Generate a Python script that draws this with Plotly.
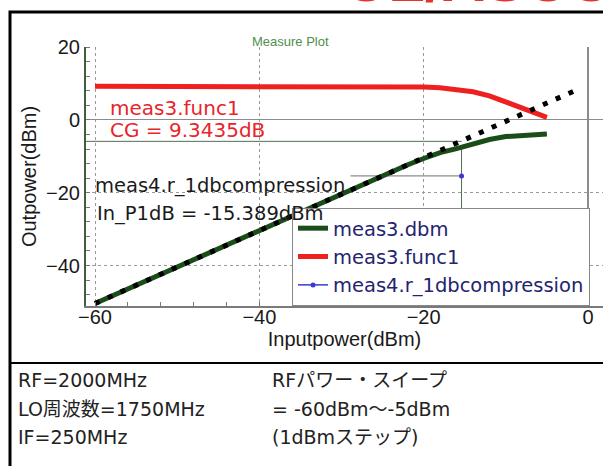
import plotly.graph_objects as go

# ---------------- data ----------------
input_dbm = [-60, -55, -50, -45, -40, -35, -30, -25, -22, -20, -18, -16, -14, -12, -10, -8, -6, -5]
meas3_dbm = [-50.4, -45.4, -40.4, -35.4, -30.3, -25.2, -20.2, -15.3, -12.4, -10.6, -9.0, -7.9, -6.6, -5.4, -4.6, -4.2, -4.0, -3.9]
meas3_func1 = [9.2, 9.2, 9.2, 9.2, 9.2, 9.2, 9.15, 9.1, 9.05, 9.0, 8.8, 8.4, 7.7, 6.6, 4.9, 3.1, 1.6, 0.7]
ideal_x = [-60, -1]
ideal_y = [-50.4, 8.6]
p1db_in = -15.389
p1db_out_level = -5.9
p1db_curve_top = -7.6
leader_start_x = -28.9

x_ticks = [-60, -40, -20, 0]
y_ticks = [20, 0, -20, -40]
x_range = [-61.1, 1.83]
y_range = [-51.1, 20]

col1_lines = ["RF=2000MHz", "LO周波数=1750MHz", "IF=250MHz"]
col2_lines = ["RFパワー・スイープ", "= -60dBm～-5dBm", "(1dBmステップ)"]

# ---------------- layout helpers ----------------
W, H = 603, 466
ML, MR, MT, MB = 86, 0, 47, 160
PW, PH = W - ML - MR, H - MT - MB


def px(x):
    return (x - ML) / PW


def py(y):
    return (H - MB - y) / PH


SANS = "DejaVu Sans, Noto Sans CJK JP, sans-serif"
ARIAL = "Liberation Sans, Arial, sans-serif"

fig = go.Figure()
fig.add_trace(go.Scatter(x=input_dbm, y=meas3_dbm, mode="lines", name="meas3.dbm",
                         line=dict(color="#1b4d1b", width=5)))
fig.add_trace(go.Scatter(x=input_dbm, y=meas3_func1, mode="lines", name="meas3.func1",
                         line=dict(color="#ee2020", width=5)))
fig.add_trace(go.Scatter(x=[p1db_in], y=[p1db_in], mode="lines+markers",
                         name="meas4.r_1dbcompression",
                         line=dict(color="#3a3ad0", width=1.5),
                         marker=dict(color="#3a3ad0", size=5)))
fig.add_trace(go.Scatter(x=ideal_x, y=ideal_y, mode="lines", showlegend=False,
                         line=dict(color="black", width=5, dash="5px,9px")))

shapes = [
    dict(type="line", xref="x", yref="y", x0=x_range[0], x1=p1db_in,
         y0=p1db_out_level, y1=p1db_out_level, line=dict(color="#546c54", width=1), layer="below"),
    dict(type="line", xref="x", yref="y", x0=p1db_in, x1=p1db_in,
         y0=y_range[0], y1=p1db_curve_top, line=dict(color="#546c54", width=1), layer="below"),
    dict(type="line", xref="x", yref="y", x0=leader_start_x, x1=p1db_in,
         y0=p1db_in, y1=p1db_in, line=dict(color="#707070", width=1), layer="below"),
    dict(type="rect", xref="paper", yref="paper", x0=px(10), x1=px(608), y0=py(12), y1=py(472),
         line=dict(color="black", width=3), fillcolor="rgba(0,0,0,0)", layer="above"),
    dict(type="line", xref="paper", yref="paper", x0=px(10), x1=px(608), y0=py(363), y1=py(363),
         line=dict(color="black", width=2), layer="above"),
]

annotations = [
    dict(text="<b>UL/ASCC</b>", x=px(343), y=py(16), xanchor="left", yanchor="bottom",
         font=dict(family=ARIAL, size=60, color="#e8322e")),
    dict(text="Measure Plot", x=px(290), y=py(41), xanchor="center", yanchor="middle",
         font=dict(family=ARIAL, size=13, color="#4e8e4e")),
    dict(text="meas3.func1", x=px(108), y=py(108), xanchor="left", yanchor="middle",
         font=dict(family=SANS, size=20, color="#e8252a")),
    dict(text="CG = 9.3435dB", x=px(108), y=py(130), xanchor="left", yanchor="middle",
         font=dict(family=SANS, size=20, color="#e8252a")),
    dict(text="meas4.r_1dbcompression", x=px(93), y=py(185), xanchor="left", yanchor="middle",
         font=dict(family=SANS, size=19.5, color="#1a1a1a")),
    dict(text="In_P1dB = -15.389dBm", x=px(95), y=py(213), xanchor="left", yanchor="middle",
         font=dict(family=SANS, size=19.5, color="#1a1a1a")),
]
for i, t in enumerate(col1_lines):
    annotations.append(dict(text=t, x=px(16), y=py(380 + 28.5 * i), xanchor="left", yanchor="middle",
                            font=dict(family=SANS, size=19, color="#222")))
for i, t in enumerate(col2_lines):
    annotations.append(dict(text=t, x=px(270), y=py(380 + 28.5 * i), xanchor="left", yanchor="middle",
                            font=dict(family=SANS, size=19, color="#222")))
for a in annotations:
    a.update(xref="paper", yref="paper", showarrow=False)

axis_common = dict(
    showgrid=True, gridcolor="#9a9a9a", griddash="dot", gridwidth=1,
    zeroline=True, zerolinecolor="#8c8c8c",
    showline=True, ticks="",
    tickfont=dict(family=ARIAL, size=20, color="#1a1a1a"),
    minor=dict(dtick=4, ticks="inside", ticklen=4, tickcolor="#777", showgrid=False),
)

fig.update_layout(
    width=W, height=H,
    margin=dict(l=ML, r=MR, t=MT, b=MB),
    paper_bgcolor="white", plot_bgcolor="white",
    showlegend=True,
    legend=dict(x=px(292), y=0, xanchor="left", yanchor="bottom",
                bgcolor="white", bordercolor="#888", borderwidth=1,
                font=dict(family=SANS, size=19.5, color="#24246e")),
    xaxis=dict(range=x_range, tickvals=x_ticks, linecolor="#7a7a7a", linewidth=2,
               zerolinewidth=2, ticklabelstandoff=-8,
               title=dict(text="Inputpower(dBm)", standoff=2,
                          font=dict(family=ARIAL, size=20, color="#1a1a1a")),
               **axis_common),
    yaxis=dict(range=y_range, tickvals=y_ticks, linecolor="#3e5e3e", linewidth=2,
               zerolinewidth=1, ticklabelstandoff=0,
               title=dict(text="Outpower(dBm)", standoff=4,
                          font=dict(family=ARIAL, size=20, color="#1a1a1a")),
               **axis_common),
    shapes=shapes,
    annotations=annotations,
)

fig.write_html("out.html")
